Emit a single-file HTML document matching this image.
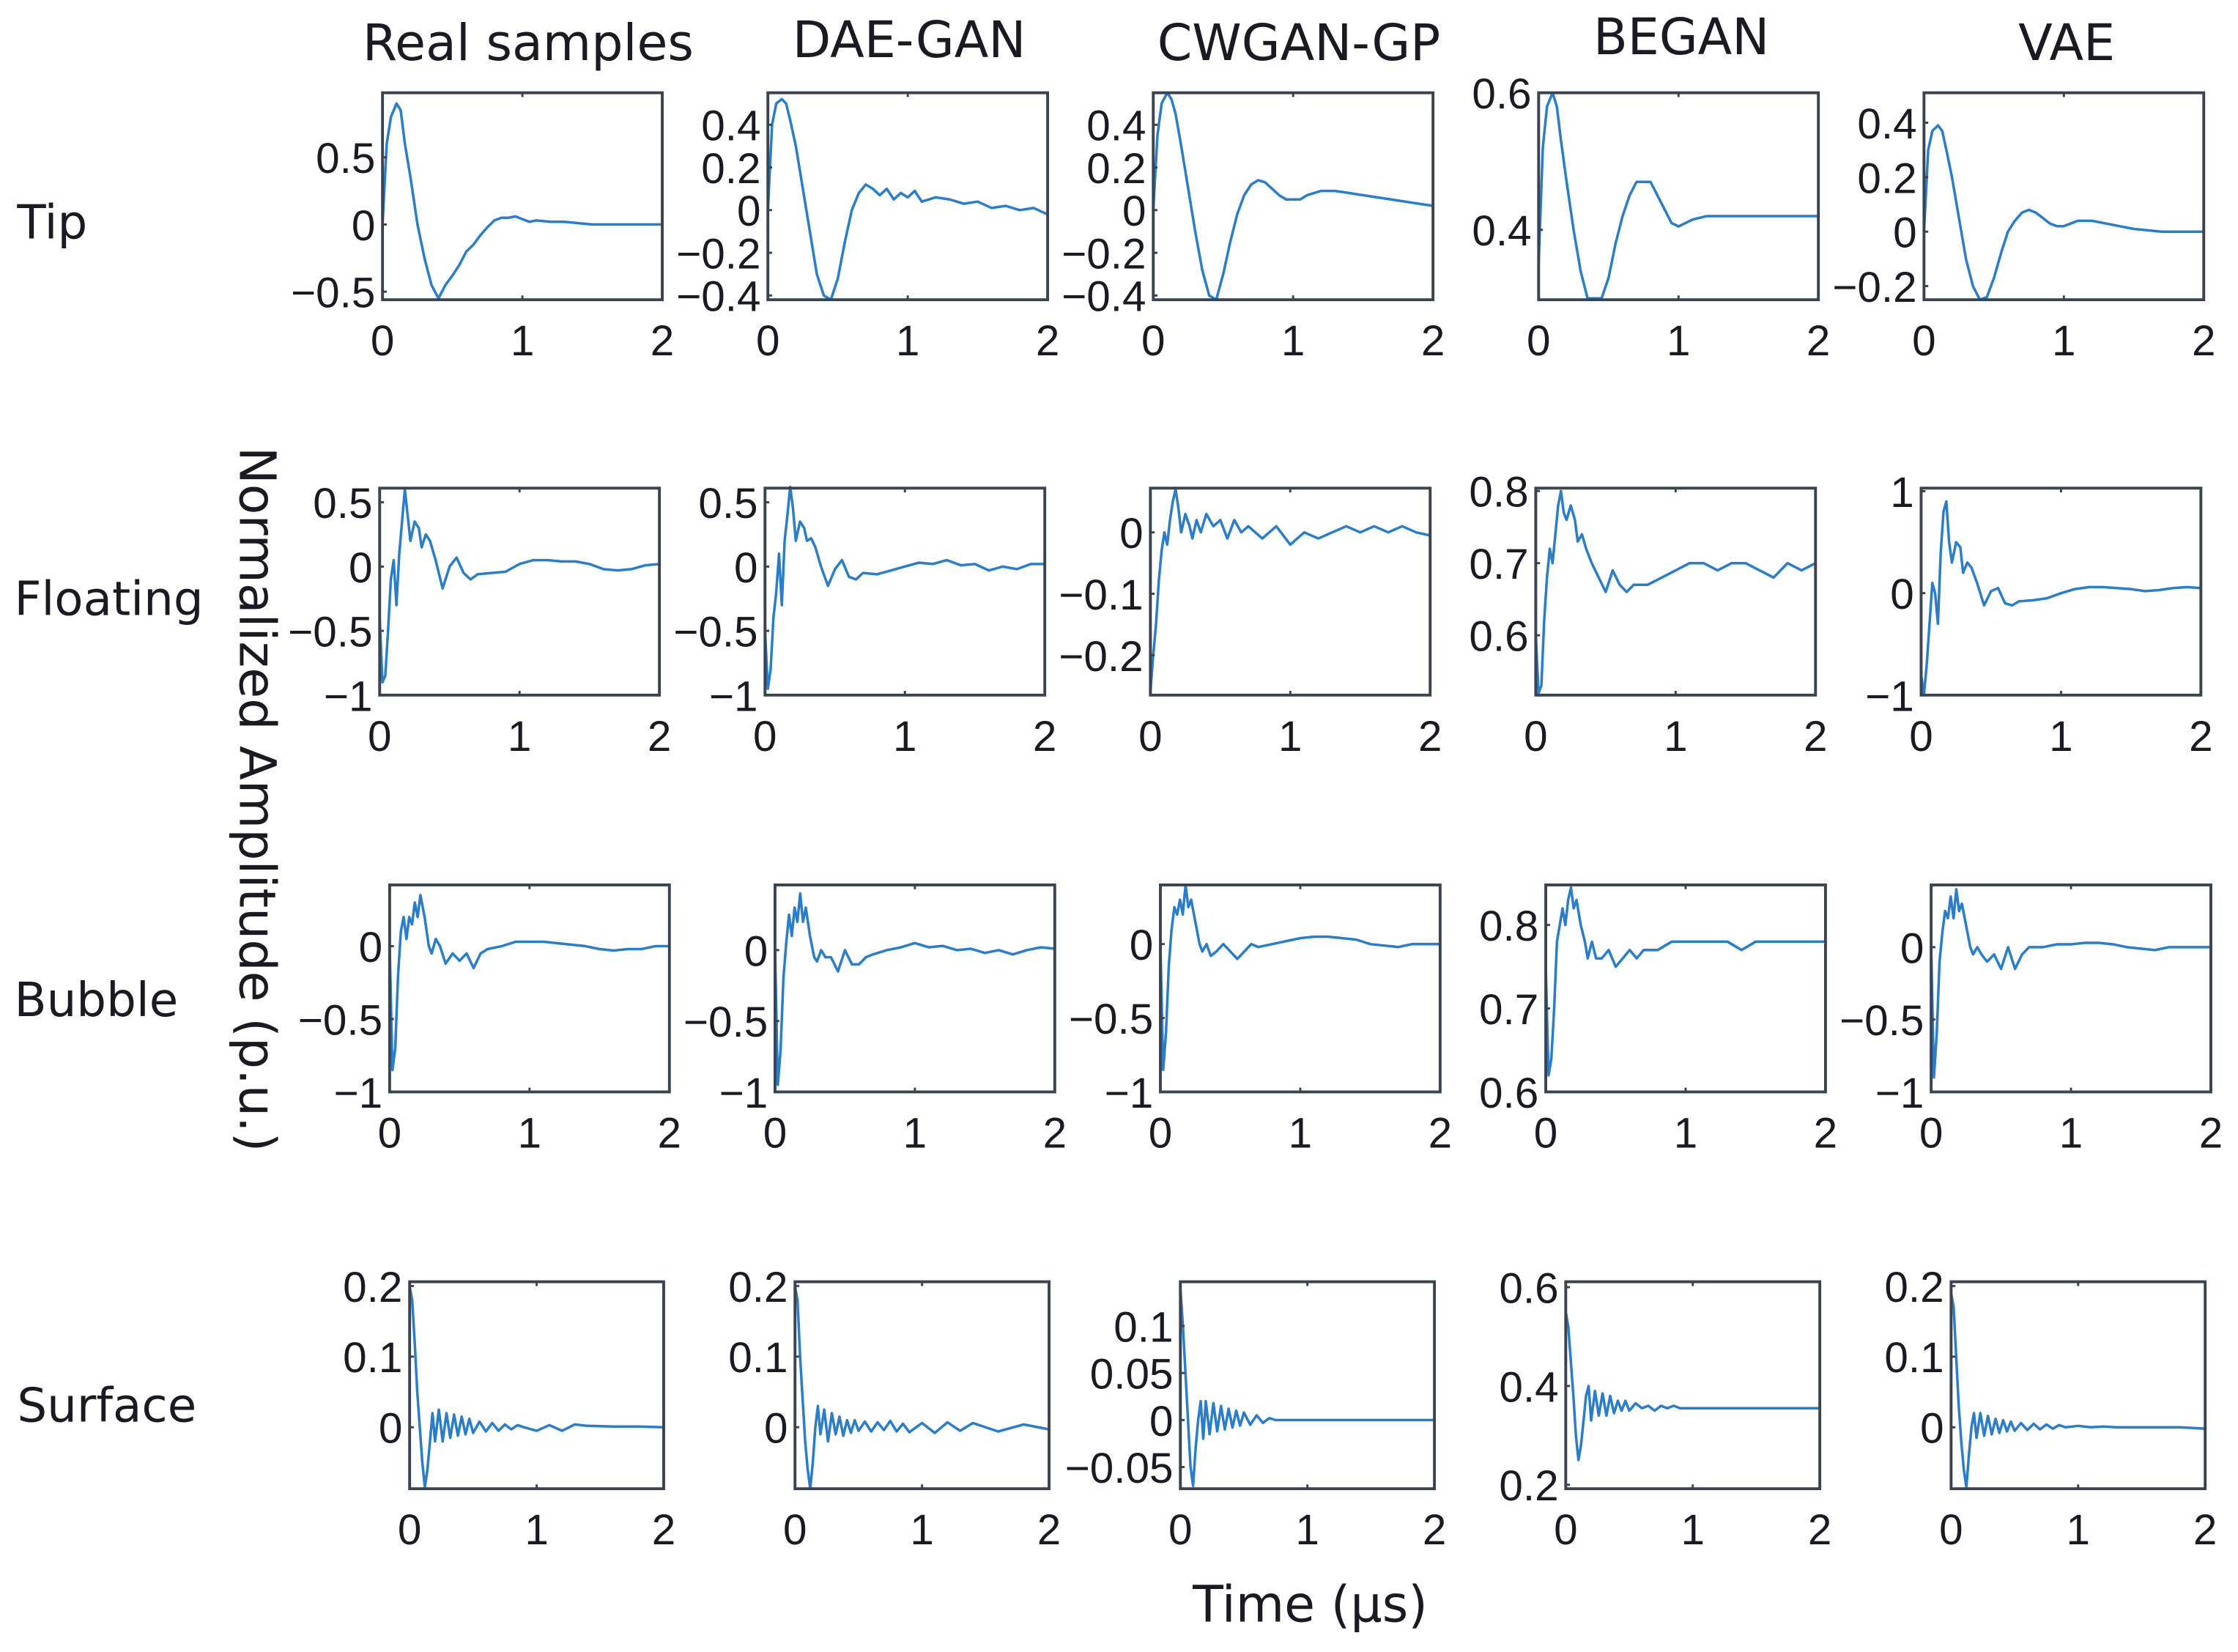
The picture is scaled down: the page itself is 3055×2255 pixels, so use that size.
<!DOCTYPE html>
<html><head><meta charset="utf-8">
<style>
html,body{margin:0;padding:0;background:#fff;}
svg{display:block;}
text{font-family:"Liberation Sans","DejaVu Sans",sans-serif;fill:#1a1a22;}
.lab{font-family:"DejaVu Sans","Liberation Sans",sans-serif;}
</style></head>
<body>
<svg id="fig" width="3055" height="2255" viewBox="0 0 1568 1157.4" preserveAspectRatio="none" xmlns="http://www.w3.org/2000/svg">
<g>
<text class="lab" x="370" y="42" font-size="35" text-anchor="middle">Real samples</text>
<text class="lab" x="637" y="40" font-size="35" text-anchor="middle">DAE-GAN</text>
<text class="lab" x="910" y="42" font-size="35" text-anchor="middle">CWGAN-GP</text>
<text class="lab" x="1178" y="38" font-size="35" text-anchor="middle">BEGAN</text>
<text class="lab" x="1448" y="42" font-size="35" text-anchor="middle">VAE</text>
</g>
<g>
<text class="lab" x="12" y="167" font-size="33">Tip</text>
<text class="lab" x="10" y="431" font-size="33">Floating</text>
<text class="lab" x="10" y="712" font-size="33">Bubble</text>
<text class="lab" x="12" y="996" font-size="33">Surface</text>
</g>
<text class="lab" transform="translate(168,560) rotate(90)" font-size="35" text-anchor="middle">Normalized Amplitude (p.u.)</text>
<text class="lab" x="918" y="1136" font-size="35" text-anchor="middle">Time (μs)</text>
<g id="panels"></g>
</svg>
<script>
const rowNames = ["tip","floating","bubble","surface"];
const colNames = ["real","dae-gan","cwgan-gp","began","vae"];
const xTicks = [0,1,2];

const tTip = [0,0.03,0.06,0.1,0.13,0.16,0.2,0.25,0.3,0.35,0.4,0.45,0.5,0.55,0.6,0.65,0.7,0.75,0.8,0.85,0.9,0.95,1.0,1.05,1.1,1.2,1.3,1.4,1.5,1.6,1.7,1.8,1.9,2.0];
const tMid = [0,0.02,0.04,0.06,0.08,0.1,0.12,0.14,0.16,0.18,0.2,0.22,0.25,0.28,0.3,0.33,0.36,0.4,0.45,0.5,0.55,0.6,0.65,0.7,0.8,0.9,1.0,1.1,1.2,1.3,1.4,1.5,1.6,1.7,1.8,1.9,2.0];
const tSurf = [0,0.02,0.04,0.06,0.08,0.1,0.12,0.14,0.16,0.18,0.2,0.23,0.26,0.29,0.32,0.35,0.38,0.41,0.44,0.47,0.5,0.55,0.6,0.65,0.7,0.75,0.8,0.85,0.9,1.0,1.1,1.2,1.3,1.4,1.6,1.8,2.0];

const tipReal = [0,0.6,0.8,0.9,0.85,0.6,0.35,0.0,-0.25,-0.45,-0.55,-0.45,-0.38,-0.3,-0.2,-0.15,-0.08,-0.02,0.03,0.05,0.05,0.06,0.04,0.02,0.03,0.02,0.02,0.01,0,0,0,0,0,0];
const tipDae = [0,0.4,0.5,0.52,0.5,0.42,0.3,0.1,-0.1,-0.3,-0.4,-0.42,-0.32,-0.15,0.0,0.08,0.12,0.1,0.07,0.1,0.05,0.08,0.06,0.09,0.04,0.06,0.05,0.03,0.04,0.01,0.02,0.0,0.01,-0.02];
const tipCwgan = [0,0.35,0.5,0.55,0.52,0.45,0.3,0.1,-0.1,-0.28,-0.4,-0.42,-0.3,-0.15,-0.02,0.07,0.12,0.14,0.13,0.1,0.07,0.05,0.05,0.05,0.07,0.09,0.09,0.08,0.07,0.06,0.05,0.04,0.03,0.02];
const tipBegan = [0.35,0.52,0.58,0.6,0.58,0.53,0.47,0.4,0.34,0.3,0.3,0.3,0.33,0.38,0.42,0.45,0.47,0.47,0.47,0.45,0.43,0.41,0.405,0.41,0.415,0.42,0.42,0.42,0.42,0.42,0.42,0.42,0.42,0.42];
const tipVae = [0,0.3,0.37,0.39,0.37,0.3,0.2,0.05,-0.1,-0.2,-0.25,-0.24,-0.17,-0.08,0.0,0.04,0.07,0.08,0.07,0.05,0.03,0.02,0.02,0.03,0.04,0.04,0.03,0.02,0.01,0.005,0,0,0,0];

const floReal = [-0.4,-0.9,-0.85,-0.5,-0.1,0.05,-0.3,0.1,0.35,0.6,0.4,0.2,0.35,0.3,0.15,0.25,0.2,0.05,-0.17,0.0,0.07,-0.05,-0.1,-0.06,-0.05,-0.04,0.02,0.05,0.05,0.04,0.04,0.02,-0.02,-0.03,-0.02,0.01,0.02];
const floDae = [-0.5,-0.95,-0.8,-0.4,-0.2,0.1,-0.3,0.2,0.4,0.62,0.45,0.2,0.35,0.3,0.2,0.22,0.15,0.0,-0.15,-0.02,0.05,-0.08,-0.1,-0.05,-0.06,-0.03,0.0,0.03,0.02,0.05,0.01,0.02,-0.03,0.0,-0.02,0.02,0.02];
const floCwgan = [-0.26,-0.2,-0.15,-0.08,-0.03,0.0,-0.02,0.02,0.05,0.07,0.04,0.0,0.03,0.01,-0.01,0.02,0.0,0.03,0.01,0.02,-0.01,0.02,0.0,0.01,-0.01,0.01,-0.02,0.0,-0.01,0.0,0.01,0.0,0.01,0.0,0.01,0.0,-0.005];
const floBegan = [0.6,0.52,0.53,0.62,0.68,0.72,0.7,0.74,0.78,0.8,0.77,0.76,0.78,0.76,0.73,0.74,0.72,0.7,0.68,0.66,0.69,0.67,0.66,0.67,0.67,0.68,0.69,0.7,0.7,0.69,0.7,0.7,0.69,0.68,0.7,0.69,0.7];
const floVae = [-0.8,-1.0,-0.7,-0.3,0.1,0.0,-0.3,0.4,0.8,0.9,0.5,0.3,0.5,0.45,0.2,0.3,0.25,0.1,-0.12,0.02,0.05,-0.1,-0.12,-0.08,-0.07,-0.05,0.0,0.04,0.06,0.06,0.05,0.04,0.02,0.03,0.05,0.06,0.05];

const bubReal = [0,-0.85,-0.7,-0.2,0.1,0.2,0.05,0.2,0.15,0.3,0.2,0.35,0.2,0.0,-0.05,0.05,0.0,-0.12,-0.05,-0.1,-0.05,-0.15,-0.05,-0.02,0.0,0.03,0.03,0.03,0.02,0.01,0.0,-0.02,-0.03,-0.02,-0.02,0.0,0.0];
const bubDae = [0,-0.95,-0.7,-0.2,0.05,0.25,0.1,0.3,0.2,0.4,0.2,0.3,0.1,-0.05,-0.08,0.0,-0.05,-0.05,-0.15,0.0,-0.1,-0.1,-0.05,-0.03,0.0,0.02,0.05,0.02,0.03,0.0,0.01,-0.02,0.0,-0.03,0.0,0.02,0.01];
const bubCwgan = [0,-0.85,-0.6,-0.15,0.1,0.25,0.2,0.3,0.2,0.4,0.25,0.3,0.15,0.0,-0.05,0.0,-0.08,-0.05,0.0,-0.05,-0.1,-0.05,0.0,-0.02,0.0,0.02,0.04,0.05,0.05,0.04,0.03,0.0,-0.01,-0.02,0.0,0.0,0.0];
const bubBegan = [0.75,0.62,0.64,0.7,0.78,0.8,0.82,0.8,0.83,0.845,0.82,0.83,0.8,0.78,0.76,0.78,0.76,0.76,0.77,0.75,0.76,0.77,0.76,0.77,0.77,0.78,0.78,0.78,0.78,0.78,0.77,0.78,0.78,0.78,0.78,0.78,0.78];
const bubVae = [0,-0.9,-0.6,-0.1,0.1,0.25,0.2,0.35,0.2,0.4,0.25,0.3,0.15,0.0,-0.05,0.0,-0.05,-0.1,-0.05,-0.15,0.0,-0.15,-0.05,0.0,0.0,0.02,0.02,0.03,0.03,0.02,0.0,-0.01,-0.02,0.0,0.0,0.0,0.0];

const surReal = [0.2,0.18,0.12,0.05,0.0,-0.05,-0.085,-0.06,-0.02,0.02,-0.02,0.025,-0.02,0.02,-0.015,0.018,-0.012,0.015,-0.01,0.012,-0.008,0.008,-0.006,0.006,-0.005,0.004,-0.003,0.003,0.0,-0.005,0.003,-0.005,0.004,0.002,0.001,0.001,0.0];
const surDae = [0.2,0.18,0.1,0.04,-0.02,-0.06,-0.087,-0.05,0.0,0.03,-0.01,0.025,-0.02,0.02,-0.01,0.015,-0.012,0.01,-0.008,0.01,-0.005,0.008,-0.006,0.007,-0.004,0.009,-0.006,0.005,-0.007,0.006,-0.008,0.007,-0.005,0.006,-0.006,0.004,-0.003];
const surCwgan = [0.14,0.1,0.05,0.0,-0.05,-0.07,-0.03,0.0,0.02,-0.02,0.02,-0.015,0.018,-0.012,0.015,-0.01,0.012,-0.008,0.01,-0.006,0.008,-0.005,0.005,-0.003,0.002,0,0,0,0,0,0,0,0,0,0,0,0];
const surBegan = [0.55,0.52,0.45,0.38,0.3,0.25,0.28,0.33,0.38,0.4,0.33,0.39,0.34,0.385,0.34,0.38,0.345,0.37,0.35,0.37,0.35,0.365,0.355,0.36,0.35,0.36,0.355,0.36,0.355,0.355,0.355,0.355,0.355,0.355,0.355,0.355,0.355];
const surVae = [0.19,0.17,0.1,0.03,-0.02,-0.06,-0.085,-0.04,0.0,0.02,-0.015,0.02,-0.012,0.016,-0.01,0.012,-0.008,0.01,-0.006,0.008,-0.005,0.006,-0.004,0.005,-0.003,0.004,-0.002,0.003,0.0,0.002,0.0,0.001,0,0,0,0,-0.002];

const yTicksTip = [[-0.5,0,0.5],[-0.4,-0.2,0,0.2,0.4],[-0.4,-0.2,0,0.2,0.4],[0.4,0.6],[-0.2,0,0.2,0.4]];
const yTicksFlo = [[-1,-0.5,0,0.5],[-1,-0.5,0,0.5],[-0.2,-0.1,0],[0.6,0.7,0.8],[-1,0,1]];
const yTicksBub = [[-1,-0.5,0],[-1,-0.5,0],[-1,-0.5,0],[0.6,0.7,0.8],[-1,-0.5,0]];
const yTicksSur = [[0,0.1,0.2],[0,0.1,0.2],[-0.05,0,0.05,0.1],[0.2,0.4,0.6],[0,0.1,0.2]];

const yLimTip = [[-0.56,0.98],[-0.42,0.55],[-0.42,0.55],[0.298,0.6],[-0.25,0.51]];
const yLimFlo = [[-1,0.61],[-1,0.61],[-0.265,0.072],[0.517,0.804],[-1,1.03]];
const yLimBub = [[-1,0.42],[-1,0.46],[-1,0.4],[0.6,0.848],[-1,0.43]];
const yLimSur = [[-0.087,0.206],[-0.087,0.206],[-0.073,0.147],[0.192,0.611],[-0.087,0.206]];

const rows = [
 {t:tTip, series:[tipReal,tipDae,tipCwgan,tipBegan,tipVae], ticks:yTicksTip, lims:yLimTip},
 {t:tMid, series:[floReal,floDae,floCwgan,floBegan,floVae], ticks:yTicksFlo, lims:yLimFlo},
 {t:tMid, series:[bubReal,bubDae,bubCwgan,bubBegan,bubVae], ticks:yTicksBub, lims:yLimBub},
 {t:tSurf, series:[surReal,surDae,surCwgan,surBegan,surVae], ticks:yTicksSur, lims:yLimSur}
];
const rowY = [[65,210],[342,487],[620,765],[898,1043]];
const rowX = [[268,538,808,1078,1348],[266,536,806,1076,1346],[273,543,813,1083,1353],[287,557,827,1097,1367]];

const NS = "http://www.w3.org/2000/svg";
const root = document.getElementById('panels');
function mk(tag, attrs, parent){
  const e = document.createElementNS(NS, tag);
  for (const k in attrs) e.setAttribute(k, attrs[k]);
  parent.appendChild(e); return e;
}
function fmt(v){ return String(v).replace('-', '\u2212'); }

rows.forEach((row, r) => {
  const [y0, y1] = rowY[r];
  const w = r === 3 ? 178 : 196;
  colNames.forEach((cn, c) => {
    const x0 = rowX[r][c], x1 = x0 + w;
    const [lo, hi] = row.lims[c];
    const xs = t => x0 + (t / 2) * (x1 - x0);
    const ys = v => y1 - (v - lo) / (hi - lo) * (y1 - y0);
    const g = mk('g', {}, root);
    
    
    const vals = row.series[c];
    let d = '';
    row.t.forEach((t, i) => { d += (i ? 'L' : 'M') + xs(t).toFixed(2) + ' ' + ys(vals[i]).toFixed(2); });
    const p = mk('path', {d: d, fill: 'none', stroke: '#2a7dc8', 'stroke-width': 1.8, 'stroke-linejoin': 'round'}, g);
    
    
    const b = mk('rect', {x: x0, y: y0, width: x1 - x0, height: y1 - y0, fill: 'none', stroke: '#3c4350', 'stroke-width': 2}, g);
    
    
    xTicks.forEach(tv => {
      const x = xs(tv);
      mk('line', {x1: x, x2: x, y1: y1, y2: y1 - 3, stroke: '#3c4350', 'stroke-width': 1.5}, g);
      mk('line', {x1: x, x2: x, y1: y0, y2: y0 + 3, stroke: '#3c4350', 'stroke-width': 1.5}, g);
      const tx = mk('text', {x: x, y: y1 + 39, 'font-size': 30, 'text-anchor': 'middle'}, g);
      
      
      tx.textContent = fmt(tv);
    });
    row.ticks[c].forEach(tv => {
      const y = ys(tv);
      mk('line', {x1: x0, x2: x0 + 3, y1: y, y2: y, stroke: '#3c4350', 'stroke-width': 1.5}, g);
      const ty = mk('text', {x: x0 - 5, y: y + 11, 'font-size': 30, 'text-anchor': 'end'}, g);
      
      
      ty.textContent = fmt(tv);
    });
  });
});
</script>
</body></html>
